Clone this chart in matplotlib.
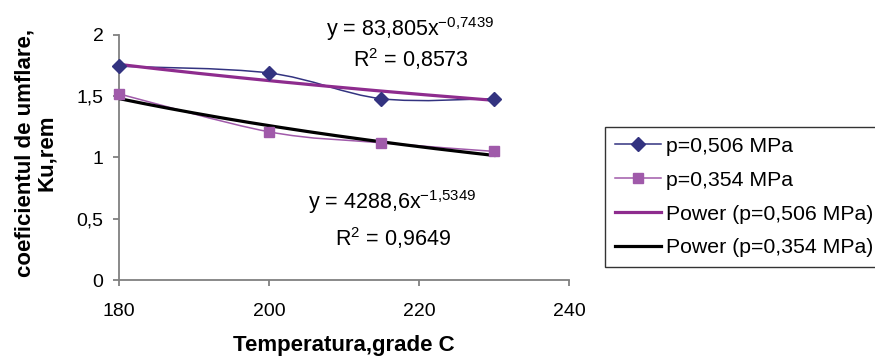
import numpy as np
import matplotlib
matplotlib.use("Agg")
import matplotlib.pyplot as plt
from matplotlib.path import Path
from matplotlib.patches import PathPatch
from matplotlib.lines import Line2D

plt.rcParams['font.family'] = ['Liberation Sans', 'DejaVu Sans']
plt.rcParams['mathtext.fontset'] = 'custom'
plt.rcParams['mathtext.rm'] = 'Liberation Sans'

# data
temp = [180, 200, 215, 230]
ku_506 = [1.745, 1.69, 1.48, 1.48]
ku_354 = [1.52, 1.21, 1.12, 1.05]

# power trendlines shown on the chart: y = a * x^b
fit_506 = (83.805, -0.7439)
fit_354 = (4288.6, -1.5349)
label_506 = "p=0,506 MPa"
label_354 = "p=0,354 MPa"

c_506 = "#333380"
c_354 = "#A05AAA"
c_pow506 = "#8E2C8E"
c_pow354 = "#000000"


def smooth_path(xs, ys):
    # Excel style smoothed line as cubic bezier segments through the points
    p = np.column_stack([xs, ys]).astype(float)
    pp = np.vstack([p[0], p, p[-1]])
    verts = [p[0]]
    codes = [Path.MOVETO]
    for i in range(len(p) - 1):
        a, b, c, d = pp[i], pp[i + 1], pp[i + 2], pp[i + 3]
        verts += [b + (c - a) / 6, c - (d - b) / 6, c]
        codes += [Path.CURVE4] * 3
    return Path(verts, codes)


fig = plt.figure(figsize=(8.75, 3.6), dpi=100)
ax = fig.add_axes([0.1357, 0.2222, 0.5146, 0.6806])

xx = np.linspace(temp[0], temp[-1], 200)
ax.plot(xx, fit_506[0] * xx ** fit_506[1], color=c_pow506, lw=2.3, zorder=3)
ax.plot(xx, fit_354[0] * xx ** fit_354[1], color=c_pow354, lw=2.3, zorder=3)

ax.add_patch(PathPatch(smooth_path(temp, ku_506), fc='none', ec=c_506, lw=1.1, zorder=2))
ax.add_patch(PathPatch(smooth_path(temp, ku_354), fc='none', ec=c_354, lw=1.1, zorder=2))
ax.plot(temp, ku_506, ls='none', marker='D', ms=7.5, color=c_506, zorder=4, clip_on=False)
ax.plot(temp, ku_354, ls='none', marker='s', ms=7.5, color=c_354, zorder=4, clip_on=False)

ax.set_xlim(180, 240)
ax.set_ylim(0, 2)
ax.set_xticks([180, 200, 220, 240])
ax.set_yticks([0, 0.5, 1, 1.5, 2])
ax.set_yticklabels(["0", "0,5", "1", "1,5", "2"])
for s in ['top', 'right']:
    ax.spines[s].set_visible(False)
for s in ['left', 'bottom']:
    ax.spines[s].set_color('#808080')
    ax.spines[s].set_linewidth(1.3)
ax.tick_params(direction='out', length=4.5, width=1.3, color='#808080', labelsize=14)
ax.tick_params(axis='x', pad=12)
ax.tick_params(axis='y', pad=6.5)

fig.text(0.3929, 0.040, "Temperatura,grade C", ha='center', va='center',
         fontsize=16, fontweight='bold')
fig.text(0.041, 0.575, "coeficientul de umflare,\nKu,rem", rotation=90, ha='center', va='center',
         fontsize=16, fontweight='bold', linespacing=1.0)

ax.text(218.8, 2.05, r"y = 83,805x$^{\mathregular{-0{,}7439}}$", ha='center', va='center', fontsize=15.5)
ax.text(218.9, 1.80, r"R$^{\mathregular{2}}$ = 0,8573", ha='center', va='center', fontsize=15.5)
ax.text(216.4, 0.64, r"y = 4288,6x$^{\mathregular{-1{,}5349}}$", ha='center', va='center', fontsize=15.5)
ax.text(216.6, 0.345, r"R$^{\mathregular{2}}$ = 0,9649", ha='center', va='center', fontsize=15.5)

handles = [
    Line2D([], [], color=c_506, lw=1.1, marker='D', ms=7.5),
    Line2D([], [], color=c_354, lw=1.1, marker='s', ms=7.5),
    Line2D([], [], color=c_pow506, lw=2.3),
    Line2D([], [], color=c_pow354, lw=2.3),
]
labels = [label_506, label_354, "Power (" + label_506 + ")", "Power (" + label_354 + ")"]
leg = fig.legend(handles, labels, loc='upper left', bbox_to_anchor=(0.6914, 0.6464),
                 fontsize=15.3, frameon=True, fancybox=False, edgecolor='black',
                 handlelength=2.2, handletextpad=0.24, labelspacing=0.70, borderpad=0.45,
                 borderaxespad=0)
leg.get_frame().set_linewidth(1.0)

fig.savefig("out.png", dpi=100)
